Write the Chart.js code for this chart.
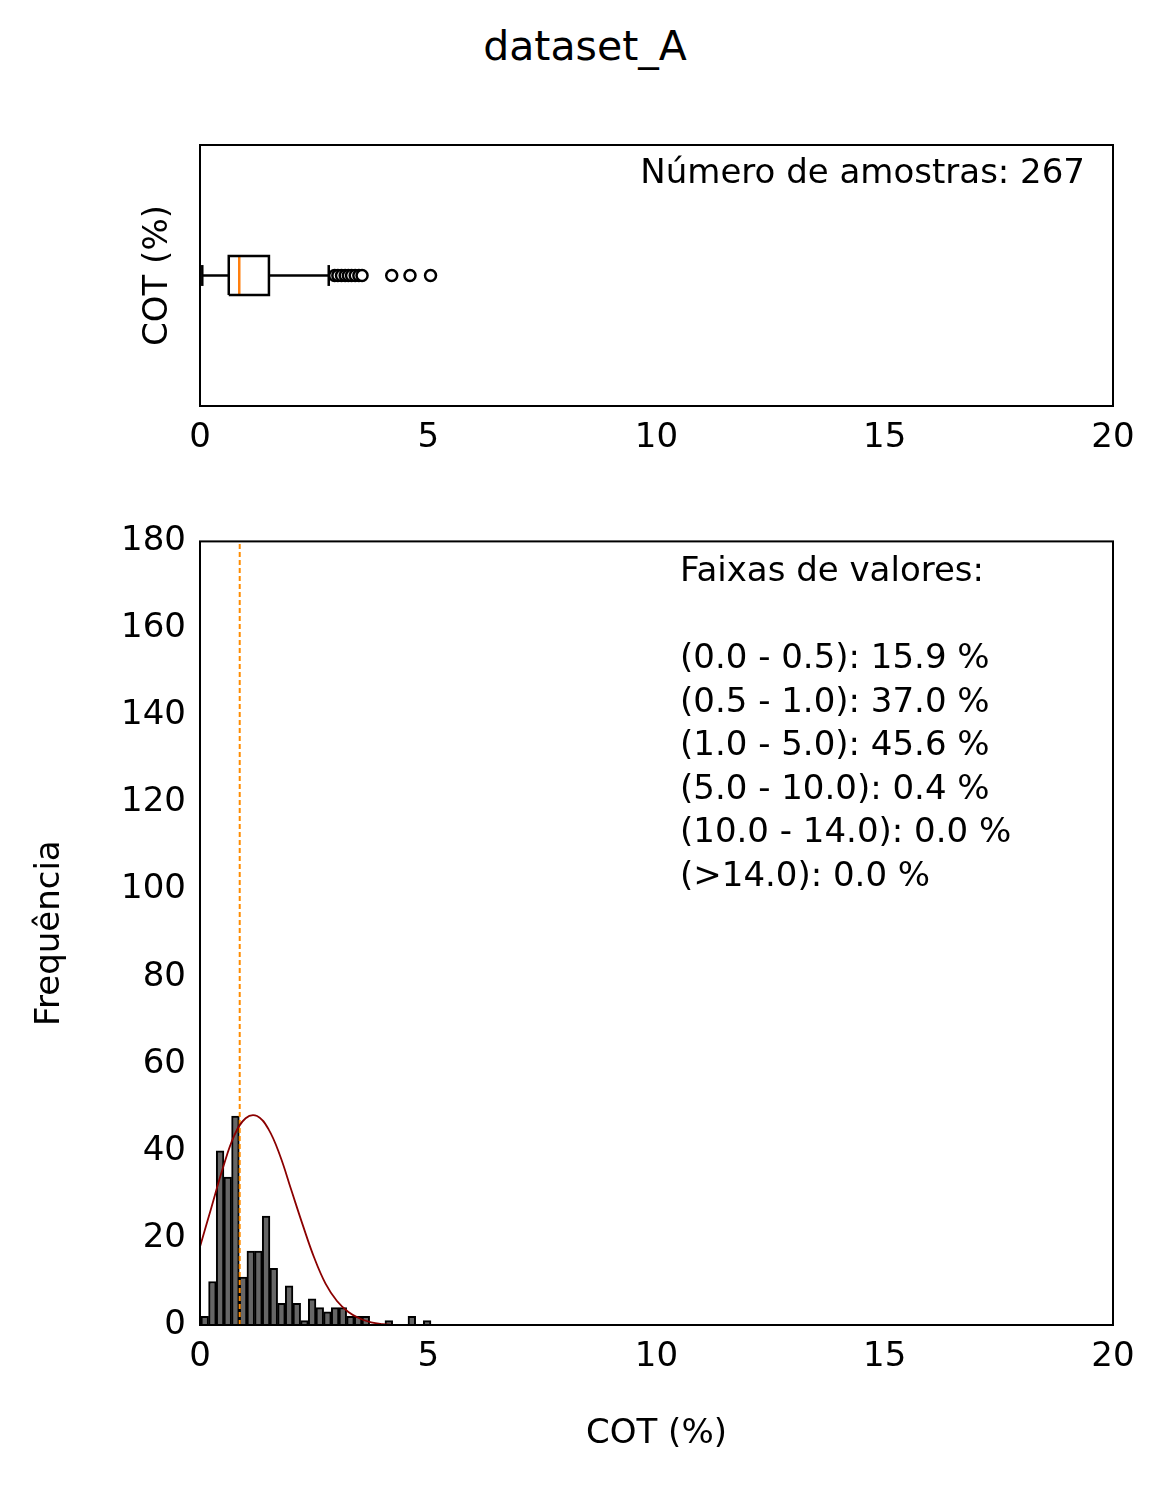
<!DOCTYPE html>
<html lang="pt">
<head>
<meta charset="UTF-8">
<title>dataset_A</title>
<script src="https://cdn.jsdelivr.net/npm/chart.js"></script>
<style>
  body { margin: 0; background: #fff; width: 1170px; height: 1485px; position: relative; font-family: "DejaVu Sans", sans-serif; }
  #title { position: absolute; top: 22px; left: 0; width: 1170px; text-align: center; font-size: 41px; }
  .box { position: absolute; left: 0; width: 1170px; }
</style>
</head>
<body>
<div id="title">dataset_A</div>
<div class="box" style="top:125px;height:360px"><canvas id="boxChart"></canvas></div>
<div class="box" style="top:515px;height:970px"><canvas id="histChart"></canvas></div>
<script>
// boxplot stats (COT %)
const boxStats = { min: 0.05, q1: 0.63, median: 0.86, q3: 1.51, max: 2.82 };
const outliers = [2.95, 3.02, 3.1, 3.18, 3.25, 3.32, 3.4, 3.48, 3.55, 4.2, 4.6, 5.05];
const sampleText = 'Número de amostras: 267';

// histogram
const binStart = 0.02;
const binWidth = 0.168;
const binCounts = [2, 10, 40, 34, 48, 11, 17, 17, 25, 13, 5, 9, 5, 1, 6, 4, 3, 4, 4, 2, 2, 2, 0, 0, 1, 0, 0, 2, 0, 1];
const medianValue = 0.87;
const curveX = [0, 0.25, 0.5, 0.75, 1.0, 1.25, 1.5, 1.75, 2.0, 2.25, 2.5, 2.75, 3.0, 3.25, 3.5, 3.75, 4.0, 4.25];
const curveY = [18, 27, 36, 43.5, 47.5, 48, 45, 39, 31, 23, 15.5, 9.5, 5.5, 3, 1.5, 0.6, 0.2, 0];
const rangeLines = ['Faixas de valores:', '', '(0.0 - 0.5): 15.9 %', '(0.5 - 1.0): 37.0 %', '(1.0 - 5.0): 45.6 %',
  '(5.0 - 10.0): 0.4 %', '(10.0 - 14.0): 0.0 %', '(>14.0): 0.0 %'];
const xTicks = [0, 5, 10, 15, 20];
const yTicks = [0, 20, 40, 60, 80, 100, 120, 140, 160, 180];

Chart.defaults.font.family = '"DejaVu Sans", sans-serif';
Chart.defaults.color = '#000';
Chart.defaults.animation = false;

const tickFont = { size: 34 };
const labelFont = { size: 34 };

function frameBorder(chart) {
  const a = chart.chartArea, ctx = chart.ctx;
  ctx.save();
  ctx.strokeStyle = '#000';
  ctx.lineWidth = 2;
  ctx.strokeRect(a.left, a.top, a.right - a.left, a.bottom - a.top);
  ctx.restore();
}

function xAxis(height, withTitle) {
  return {
    type: 'linear', min: 0, max: 20, offset: false,
    afterBuildTicks: s => { s.ticks = xTicks.map(v => ({ value: v })); },
    afterFit: s => { s.height = height; },
    grid: { display: false, offset: false, drawTicks: true, tickLength: 8, tickColor: '#000', tickWidth: 2 },
    border: { display: false },
    ticks: { font: tickFont, padding: 4, maxRotation: 0 },
    title: { display: withTitle, text: 'COT (%)', font: labelFont, padding: { top: 8, bottom: 0 } }
  };
}

// ---- boxplot ----
const bh = 0.15, ch = 0.08;
const s = boxStats;
const lineDs = (pts, color, w) => ({ type: 'scatter', data: pts, showLine: true, borderColor: color, borderWidth: w, pointRadius: 0, fill: false });
new Chart(document.getElementById('boxChart'), {
  type: 'scatter',
  data: {
    datasets: [
      lineDs([{ x: s.q1, y: -bh }, { x: s.q3, y: -bh }, { x: s.q3, y: bh }, { x: s.q1, y: bh }, { x: s.q1, y: -bh }], '#000', 2.5),
      lineDs([{ x: s.min, y: 0 }, { x: s.q1, y: 0 }], '#000', 2.5),
      lineDs([{ x: s.q3, y: 0 }, { x: s.max, y: 0 }], '#000', 2.5),
      lineDs([{ x: s.min, y: -ch }, { x: s.min, y: ch }], '#000', 2.5),
      lineDs([{ x: s.max, y: -ch }, { x: s.max, y: ch }], '#000', 2.5),
      lineDs([{ x: s.median, y: -bh }, { x: s.median, y: bh }], '#ff7f0e', 2.5),
      { type: 'scatter', data: outliers.map(v => ({ x: v, y: 0 })), pointRadius: 5.5, pointBorderWidth: 2.5,
        pointBorderColor: '#000', pointBackgroundColor: '#fff' }
    ]
  },
  options: {
    responsive: true, maintainAspectRatio: false,
    layout: { padding: { top: 20, right: 57, left: 138, bottom: 0 } },
    plugins: { legend: { display: false }, tooltip: { enabled: false } },
    scales: {
      x: xAxis(79, false),
      y: {
        min: -1, max: 1,
        afterFit: sc => { sc.width = 62; },
        grid: { display: false }, border: { display: false },
        ticks: { display: false },
        title: { display: true, text: 'COT (%)', font: labelFont, padding: 0 }
      }
    }
  },
  plugins: [{
    id: 'deco',
    afterDraw(chart) {
      frameBorder(chart);
      const ctx = chart.ctx, a = chart.chartArea;
      ctx.save();
      ctx.font = '34px "DejaVu Sans", sans-serif';
      ctx.textAlign = 'right';
      ctx.textBaseline = 'top';
      ctx.fillStyle = '#000';
      ctx.fillText(sampleText, a.right - 28, a.top + 12);
      ctx.restore();
    }
  }]
});

// ---- histogram ----
const binCenters = binCounts.map((_, i) => +(binStart + binWidth * (i + 0.5)).toFixed(4));
new Chart(document.getElementById('histChart'), {
  type: 'bar',
  data: {
    datasets: [
      { type: 'line', data: curveX.map((x, i) => ({ x: x, y: curveY[i] })), borderColor: '#8b0000', borderWidth: 1.8,
        pointRadius: 0, tension: 0.4, order: 0 },
      { type: 'line', data: [{ x: medianValue, y: 0 }, { x: medianValue, y: 180 }], borderColor: '#ff8c00',
        borderWidth: 2, borderDash: [5, 3], pointRadius: 0, order: 1 },
      { type: 'bar', data: binCenters.map((x, i) => ({ x: x, y: binCounts[i] })), backgroundColor: '#666666',
        borderColor: '#000', borderWidth: 2, barPercentage: 1, categoryPercentage: 1, order: 2 }
    ]
  },
  options: {
    responsive: true, maintainAspectRatio: false,
    layout: { padding: { top: 25, right: 57, left: 30, bottom: 30 } },
    plugins: { legend: { display: false }, tooltip: { enabled: false } },
    scales: {
      x: xAxis(130, true),
      y: {
        type: 'linear', min: 0, max: 180,
        afterBuildTicks: sc => { sc.ticks = yTicks.map(v => ({ value: v })); },
        afterFit: sc => { sc.width = 170; },
        grid: { display: false, drawTicks: true, tickLength: 8, tickColor: '#000', tickWidth: 2 },
        border: { display: false },
        ticks: { font: tickFont, padding: 6 },
        title: { display: true, text: 'Frequência', font: labelFont, padding: 0 }
      }
    }
  },
  plugins: [{
    id: 'deco',
    afterDraw(chart) {
      frameBorder(chart);
      const ctx = chart.ctx, a = chart.chartArea;
      ctx.save();
      ctx.font = '34px "DejaVu Sans", sans-serif';
      ctx.textAlign = 'left';
      ctx.textBaseline = 'top';
      ctx.fillStyle = '#000';
      rangeLines.forEach((t, i) => ctx.fillText(t, 680, a.top + 14 + i * 43.5));
      ctx.restore();
    }
  }]
});
</script>
</body>
</html>
